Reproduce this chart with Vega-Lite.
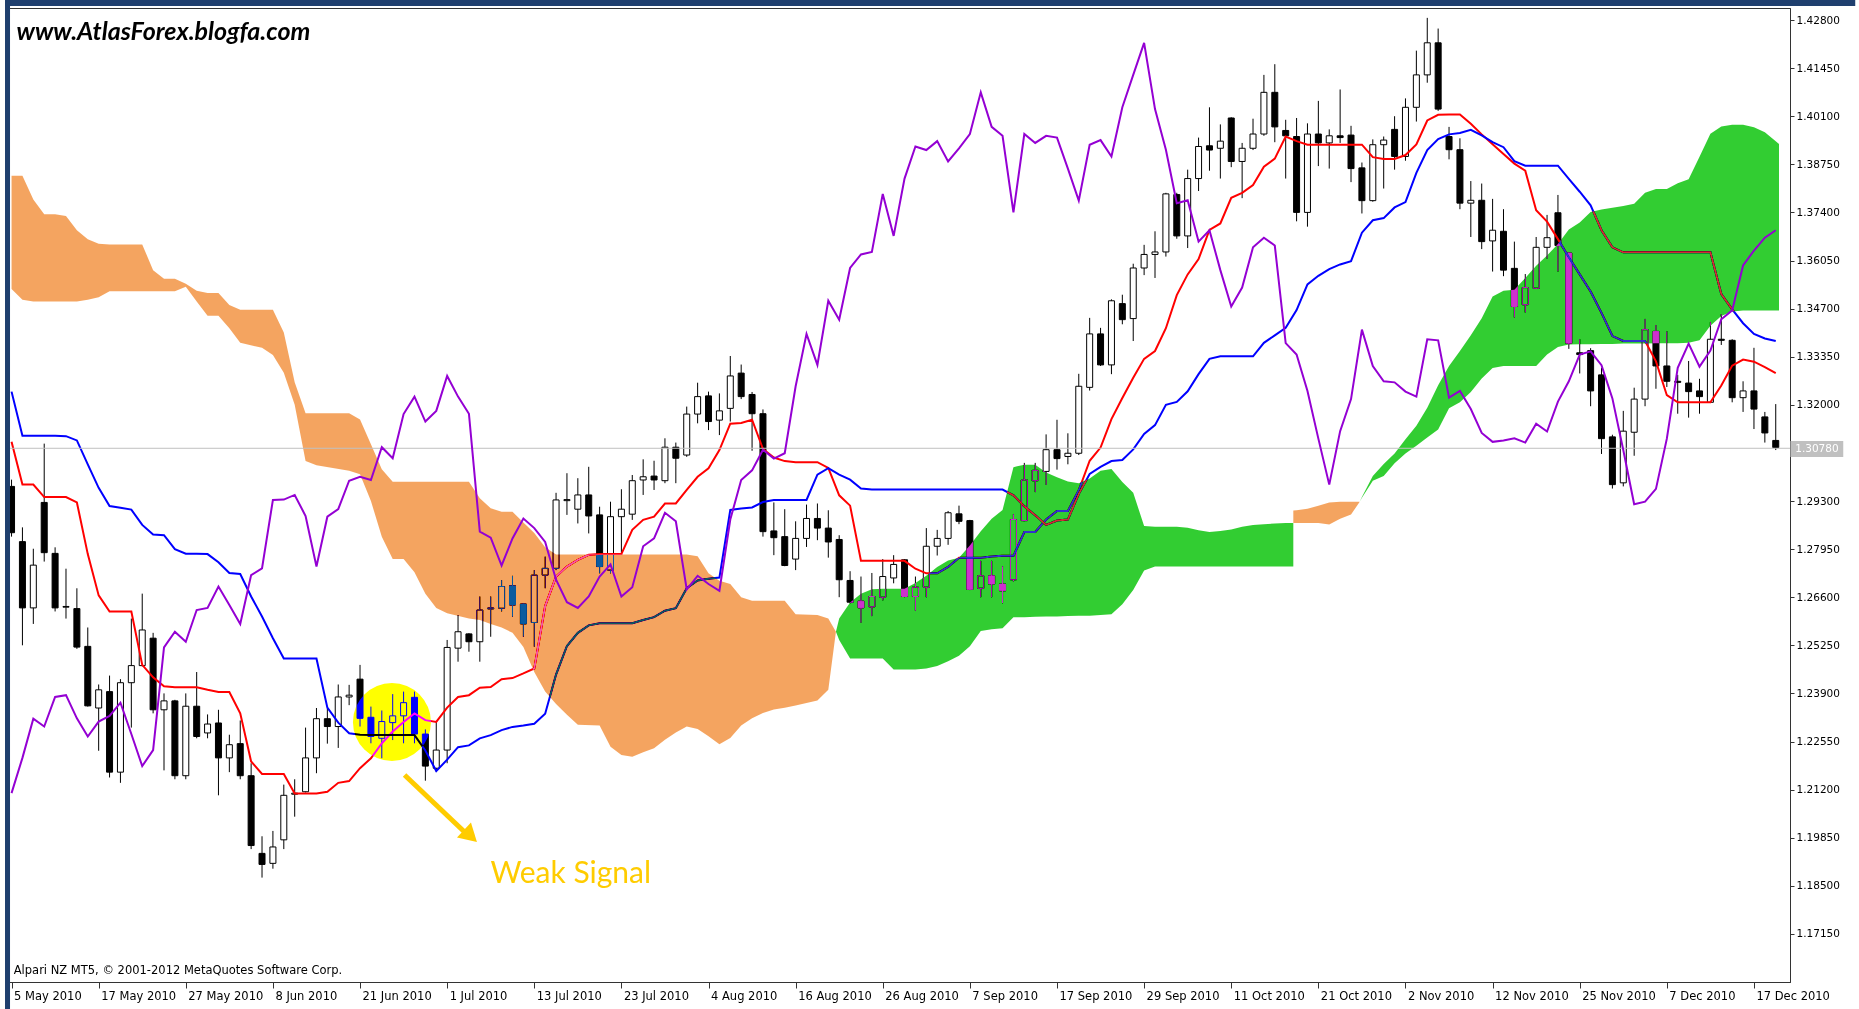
{
"$schema": "https://vega.github.io/schema/vega-lite/v6.json",
"width": 1784, "height": 974,
"autosize": {"type": "none"},
"padding": {"left": 6, "top": 8, "right": 69, "bottom": 27},
"background": "white",
"config": {"view": {"stroke": "#333333", "strokeWidth": 1, "fill": "white"}, "axis": {"grid": false, "domainColor": "#333333", "tickColor": "#333333", "labelColor": "#000000", "labelFont": "DejaVu Sans", "titleOpacity": 0}},
"datasets": {
"bars": [
{"i":0,"o":1.2971,"h":1.2990,"l":1.2830,"c":1.2841,"t":1.3096,"k":1.3237,"ch":1.2110},
{"i":1,"o":1.2816,"h":1.2856,"l":1.2525,"c":1.2630,"t":1.2976,"k":1.3113,"ch":1.2209},
{"i":2,"o":1.2630,"h":1.2796,"l":1.2585,"c":1.2750,"t":1.2976,"k":1.3113,"ch":1.2319},
{"i":3,"o":1.2926,"h":1.3091,"l":1.2760,"c":1.2785,"t":1.2941,"k":1.3113,"ch":1.2297},
{"i":4,"o":1.2783,"h":1.2800,"l":1.2620,"c":1.2630,"t":1.2941,"k":1.3113,"ch":1.2380},
{"i":5,"o":1.2632,"h":1.2740,"l":1.2600,"c":1.2634,"t":1.2941,"k":1.3112,"ch":1.2385},
{"i":6,"o":1.2628,"h":1.2685,"l":1.2515,"c":1.2520,"t":1.2926,"k":1.3100,"ch":1.2320},
{"i":7,"o":1.2522,"h":1.2575,"l":1.2353,"c":1.2355,"t":1.2781,"k":1.3033,"ch":1.2269},
{"i":8,"o":1.2349,"h":1.2415,"l":1.2229,"c":1.2400,"t":1.2665,"k":1.2967,"ch":1.2311},
{"i":9,"o":1.2395,"h":1.2440,"l":1.2154,"c":1.2169,"t":1.2620,"k":1.2916,"ch":1.2327},
{"i":10,"o":1.2169,"h":1.2430,"l":1.2139,"c":1.2420,"t":1.2620,"k":1.2911,"ch":1.2364},
{"i":11,"o":1.2420,"h":1.2600,"l":1.2294,"c":1.2468,"t":1.2620,"k":1.2906,"ch":1.2276},
{"i":12,"o":1.2468,"h":1.2670,"l":1.2466,"c":1.2568,"t":1.2470,"k":1.2863,"ch":1.2186},
{"i":13,"o":1.2545,"h":1.2560,"l":1.2334,"c":1.2344,"t":1.2435,"k":1.2836,"ch":1.2231},
{"i":14,"o":1.2344,"h":1.2390,"l":1.2174,"c":1.2369,"t":1.2410,"k":1.2834,"ch":1.2519},
{"i":15,"o":1.2369,"h":1.2372,"l":1.2149,"c":1.2159,"t":1.2407,"k":1.2795,"ch":1.2563},
{"i":16,"o":1.2159,"h":1.2390,"l":1.2149,"c":1.2354,"t":1.2407,"k":1.2782,"ch":1.2535},
{"i":17,"o":1.2354,"h":1.2450,"l":1.2264,"c":1.2269,"t":1.2407,"k":1.2782,"ch":1.2624},
{"i":18,"o":1.2279,"h":1.2331,"l":1.2264,"c":1.2304,"t":1.2400,"k":1.2781,"ch":1.2630},
{"i":19,"o":1.2307,"h":1.2344,"l":1.2104,"c":1.2209,"t":1.2394,"k":1.2758,"ch":1.2690},
{"i":20,"o":1.2209,"h":1.2274,"l":1.2169,"c":1.2246,"t":1.2394,"k":1.2728,"ch":1.2638},
{"i":21,"o":1.2249,"h":1.2314,"l":1.2149,"c":1.2159,"t":1.2334,"k":1.2725,"ch":1.2585},
{"i":22,"o":1.2159,"h":1.2194,"l":1.1953,"c":1.1963,"t":1.2199,"k":1.2662,"ch":1.2722},
{"i":23,"o":1.1941,"h":1.1989,"l":1.1873,"c":1.1910,"t":1.2164,"k":1.2606,"ch":1.2741},
{"i":24,"o":1.1913,"h":1.2004,"l":1.1898,"c":1.1959,"t":1.2164,"k":1.2545,"ch":1.2933},
{"i":25,"o":1.1979,"h":1.2134,"l":1.1953,"c":1.2104,"t":1.2164,"k":1.2488,"ch":1.2934},
{"i":26,"o":1.2107,"h":1.2149,"l":1.2044,"c":1.2110,"t":1.2109,"k":1.2488,"ch":1.2947},
{"i":27,"o":1.2114,"h":1.2294,"l":1.2112,"c":1.2209,"t":1.2109,"k":1.2488,"ch":1.2888},
{"i":28,"o":1.2209,"h":1.2349,"l":1.2166,"c":1.2319,"t":1.2109,"k":1.2488,"ch":1.2746},
{"i":29,"o":1.2319,"h":1.2349,"l":1.2249,"c":1.2297,"t":1.2114,"k":1.2350,"ch":1.2886},
{"i":30,"o":1.2297,"h":1.2415,"l":1.2237,"c":1.2380,"t":1.2139,"k":1.2308,"ch":1.2907},
{"i":31,"o":1.2380,"h":1.2414,"l":1.2357,"c":1.2385,"t":1.2144,"k":1.2278,"ch":1.2987},
{"i":32,"o":1.2430,"h":1.2470,"l":1.2297,"c":1.2320,"t":1.2180,"k":1.2274,"ch":1.2998},
{"i":33,"o":1.2323,"h":1.2353,"l":1.2250,"c":1.2269,"t":1.2208,"k":1.2273,"ch":1.2989},
{"i":34,"o":1.2264,"h":1.2342,"l":1.2208,"c":1.2311,"t":1.2250,"k":1.2273,"ch":1.3081},
{"i":35,"o":1.2308,"h":1.2388,"l":1.2259,"c":1.2327,"t":1.2283,"k":1.2273,"ch":1.3050},
{"i":36,"o":1.2327,"h":1.2395,"l":1.2250,"c":1.2364,"t":1.2310,"k":1.2273,"ch":1.3174},
{"i":37,"o":1.2379,"h":1.2395,"l":1.2250,"c":1.2276,"t":1.2334,"k":1.2273,"ch":1.3223},
{"i":38,"o":1.2276,"h":1.2289,"l":1.2145,"c":1.2186,"t":1.2315,"k":1.2230,"ch":1.3153},
{"i":39,"o":1.2180,"h":1.2310,"l":1.2170,"c":1.2231,"t":1.2310,"k":1.2172,"ch":1.3183},
{"i":40,"o":1.2231,"h":1.2540,"l":1.2194,"c":1.2519,"t":1.2350,"k":1.2204,"ch":1.3281},
{"i":41,"o":1.2517,"h":1.2610,"l":1.2479,"c":1.2563,"t":1.2380,"k":1.2239,"ch":1.3223},
{"i":42,"o":1.2557,"h":1.2559,"l":1.2507,"c":1.2535,"t":1.2385,"k":1.2244,"ch":1.3175},
{"i":43,"o":1.2535,"h":1.2662,"l":1.2479,"c":1.2624,"t":1.2406,"k":1.2264,"ch":1.2844},
{"i":44,"o":1.2627,"h":1.2662,"l":1.2549,"c":1.2630,"t":1.2408,"k":1.2273,"ch":1.2827},
{"i":45,"o":1.2629,"h":1.2708,"l":1.2620,"c":1.2690,"t":1.2430,"k":1.2287,"ch":1.2749},
{"i":46,"o":1.2692,"h":1.2720,"l":1.2605,"c":1.2638,"t":1.2433,"k":1.2296,"ch":1.2825},
{"i":47,"o":1.2641,"h":1.2643,"l":1.2549,"c":1.2585,"t":1.2446,"k":1.2300,"ch":1.2881},
{"i":48,"o":1.2589,"h":1.2736,"l":1.2521,"c":1.2722,"t":1.2460,"k":1.2305,"ch":1.2854},
{"i":49,"o":1.2722,"h":1.2774,"l":1.2685,"c":1.2741,"t":1.2635,"k":1.2333,"ch":1.2815},
{"i":50,"o":1.2741,"h":1.2953,"l":1.2736,"c":1.2933,"t":1.2718,"k":1.2443,"ch":1.2709},
{"i":51,"o":1.2931,"h":1.3008,"l":1.2891,"c":1.2934,"t":1.2746,"k":1.2523,"ch":1.2646},
{"i":52,"o":1.2907,"h":1.2994,"l":1.2867,"c":1.2947,"t":1.2765,"k":1.2560,"ch":1.2630},
{"i":53,"o":1.2947,"h":1.3026,"l":1.2839,"c":1.2888,"t":1.2779,"k":1.2581,"ch":1.2662},
{"i":54,"o":1.2891,"h":1.2914,"l":1.2727,"c":1.2746,"t":1.2781,"k":1.2587,"ch":1.2718},
{"i":55,"o":1.2736,"h":1.2928,"l":1.2727,"c":1.2886,"t":1.2781,"k":1.2587,"ch":1.2752},
{"i":56,"o":1.2886,"h":1.2963,"l":1.2783,"c":1.2907,"t":1.2781,"k":1.2587,"ch":1.2662},
{"i":57,"o":1.2893,"h":1.3003,"l":1.2877,"c":1.2987,"t":1.2849,"k":1.2587,"ch":1.2688},
{"i":58,"o":1.2989,"h":1.3047,"l":1.2947,"c":1.2998,"t":1.2877,"k":1.2596,"ch":1.2803},
{"i":59,"o":1.3000,"h":1.3043,"l":1.2961,"c":1.2989,"t":1.2886,"k":1.2604,"ch":1.2825},
{"i":60,"o":1.2987,"h":1.3106,"l":1.2980,"c":1.3081,"t":1.2923,"k":1.2622,"ch":1.2897},
{"i":61,"o":1.3081,"h":1.3094,"l":1.2980,"c":1.3050,"t":1.2923,"k":1.2629,"ch":1.2873},
{"i":62,"o":1.3059,"h":1.3195,"l":1.3054,"c":1.3174,"t":1.2961,"k":1.2685,"ch":1.2682},
{"i":63,"o":1.3174,"h":1.3262,"l":1.3148,"c":1.3223,"t":1.2998,"k":1.2707,"ch":1.2720},
{"i":64,"o":1.3225,"h":1.3237,"l":1.3129,"c":1.3153,"t":1.3022,"k":1.2712,"ch":1.2697},
{"i":65,"o":1.3157,"h":1.3232,"l":1.3115,"c":1.3183,"t":1.3073,"k":1.2715,"ch":1.2678},
{"i":66,"o":1.3190,"h":1.3337,"l":1.3153,"c":1.3281,"t":1.3147,"k":1.2905,"ch":1.2878},
{"i":67,"o":1.3289,"h":1.3313,"l":1.3216,"c":1.3223,"t":1.3149,"k":1.2909,"ch":1.2989},
{"i":68,"o":1.3229,"h":1.3236,"l":1.3071,"c":1.3175,"t":1.3158,"k":1.2912,"ch":1.3016},
{"i":69,"o":1.3175,"h":1.3187,"l":1.2830,"c":1.2844,"t":1.3076,"k":1.2927,"ch":1.3074},
{"i":70,"o":1.2846,"h":1.2926,"l":1.2778,"c":1.2827,"t":1.3052,"k":1.2933,"ch":1.3049},
{"i":71,"o":1.2830,"h":1.2907,"l":1.2747,"c":1.2749,"t":1.3042,"k":1.2933,"ch":1.3064},
{"i":72,"o":1.2767,"h":1.2873,"l":1.2736,"c":1.2825,"t":1.3039,"k":1.2933,"ch":1.3252},
{"i":73,"o":1.2825,"h":1.2920,"l":1.2801,"c":1.2881,"t":1.3039,"k":1.2933,"ch":1.3399},
{"i":74,"o":1.2881,"h":1.2923,"l":1.2820,"c":1.2854,"t":1.3039,"k":1.3004,"ch":1.3312},
{"i":75,"o":1.2854,"h":1.2904,"l":1.2771,"c":1.2815,"t":1.3023,"k":1.3022,"ch":1.3492},
{"i":76,"o":1.2822,"h":1.2834,"l":1.2660,"c":1.2709,"t":1.2946,"k":1.3004,"ch":1.3439},
{"i":77,"o":1.2707,"h":1.2733,"l":1.2643,"c":1.2646,"t":1.2917,"k":1.2990,"ch":1.3584},
{"i":78,"o":1.2649,"h":1.2718,"l":1.2588,"c":1.2630,"t":1.2762,"k":1.2965,"ch":1.3622},
{"i":79,"o":1.2633,"h":1.2728,"l":1.2607,"c":1.2662,"t":1.2762,"k":1.2962,"ch":1.3629},
{"i":80,"o":1.2660,"h":1.2767,"l":1.2651,"c":1.2718,"t":1.2762,"k":1.2962,"ch":1.3792},
{"i":81,"o":1.2714,"h":1.2778,"l":1.2699,"c":1.2752,"t":1.2762,"k":1.2962,"ch":1.3674},
{"i":82,"o":1.2765,"h":1.2767,"l":1.2660,"c":1.2662,"t":1.2762,"k":1.2962,"ch":1.3835},
{"i":83,"o":1.2662,"h":1.2718,"l":1.2622,"c":1.2688,"t":1.2740,"k":1.2962,"ch":1.3925},
{"i":84,"o":1.2688,"h":1.2854,"l":1.2660,"c":1.2803,"t":1.2727,"k":1.2962,"ch":1.3915},
{"i":85,"o":1.2803,"h":1.2849,"l":1.2777,"c":1.2825,"t":1.2727,"k":1.2962,"ch":1.3940},
{"i":86,"o":1.2825,"h":1.2902,"l":1.2807,"c":1.2897,"t":1.2745,"k":1.2962,"ch":1.3883},
{"i":87,"o":1.2894,"h":1.2917,"l":1.2865,"c":1.2873,"t":1.2771,"k":1.2962,"ch":1.3920},
{"i":88,"o":1.2875,"h":1.2877,"l":1.2680,"c":1.2682,"t":1.2771,"k":1.2962,"ch":1.3960},
{"i":89,"o":1.2685,"h":1.2762,"l":1.2660,"c":1.2720,"t":1.2771,"k":1.2962,"ch":1.4077},
{"i":90,"o":1.2720,"h":1.2762,"l":1.2660,"c":1.2697,"t":1.2774,"k":1.2962,"ch":1.3980},
{"i":91,"o":1.2697,"h":1.2747,"l":1.2643,"c":1.2678,"t":1.2776,"k":1.2962,"ch":1.3955},
{"i":92,"o":1.2709,"h":1.2893,"l":1.2704,"c":1.2878,"t":1.2776,"k":1.2946,"ch":1.3740},
{"i":93,"o":1.2875,"h":1.3037,"l":1.2873,"c":1.2989,"t":1.2843,"k":1.2915,"ch":1.3960},
{"i":94,"o":1.2987,"h":1.3037,"l":1.2955,"c":1.3016,"t":1.2843,"k":1.2890,"ch":1.3935},
{"i":95,"o":1.3013,"h":1.3117,"l":1.2975,"c":1.3074,"t":1.2878,"k":1.2863,"ch":1.3955},
{"i":96,"o":1.3074,"h":1.3158,"l":1.3018,"c":1.3049,"t":1.2902,"k":1.2875,"ch":1.3950},
{"i":97,"o":1.3055,"h":1.3120,"l":1.3033,"c":1.3064,"t":1.2902,"k":1.2878,"ch":1.3863},
{"i":98,"o":1.3064,"h":1.3287,"l":1.3059,"c":1.3252,"t":1.2960,"k":1.2950,"ch":1.3773},
{"i":99,"o":1.3249,"h":1.3444,"l":1.3240,"c":1.3399,"t":1.3043,"k":1.3006,"ch":1.3930},
{"i":100,"o":1.3399,"h":1.3416,"l":1.3309,"c":1.3312,"t":1.3080,"k":1.3026,"ch":1.3943},
{"i":101,"o":1.3312,"h":1.3496,"l":1.3286,"c":1.3492,"t":1.3160,"k":1.3042,"ch":1.3897},
{"i":102,"o":1.3484,"h":1.3509,"l":1.3426,"c":1.3439,"t":1.3219,"k":1.3045,"ch":1.4035},
{"i":103,"o":1.3442,"h":1.3596,"l":1.3379,"c":1.3584,"t":1.3276,"k":1.3075,"ch":1.4126},
{"i":104,"o":1.3584,"h":1.3649,"l":1.3564,"c":1.3622,"t":1.3329,"k":1.3118,"ch":1.4216},
{"i":105,"o":1.3622,"h":1.3687,"l":1.3556,"c":1.3629,"t":1.3351,"k":1.3143,"ch":1.4030},
{"i":106,"o":1.3629,"h":1.3795,"l":1.3616,"c":1.3792,"t":1.3415,"k":1.3200,"ch":1.3916},
{"i":107,"o":1.3790,"h":1.3795,"l":1.3666,"c":1.3674,"t":1.3508,"k":1.3208,"ch":1.3766},
{"i":108,"o":1.3674,"h":1.3860,"l":1.3640,"c":1.3835,"t":1.3566,"k":1.3238,"ch":1.3774},
{"i":109,"o":1.3835,"h":1.3950,"l":1.3800,"c":1.3925,"t":1.3609,"k":1.3286,"ch":1.3658},
{"i":110,"o":1.3927,"h":1.4035,"l":1.3857,"c":1.3915,"t":1.3691,"k":1.3329,"ch":1.3690},
{"i":111,"o":1.3920,"h":1.3987,"l":1.3835,"c":1.3940,"t":1.3709,"k":1.3336,"ch":1.3578},
{"i":112,"o":1.4005,"h":1.4007,"l":1.3867,"c":1.3883,"t":1.3781,"k":1.3336,"ch":1.3476},
{"i":113,"o":1.3883,"h":1.3935,"l":1.3780,"c":1.3920,"t":1.3795,"k":1.3336,"ch":1.3529},
{"i":114,"o":1.3920,"h":1.4003,"l":1.3915,"c":1.3960,"t":1.3817,"k":1.3336,"ch":1.3642},
{"i":115,"o":1.3960,"h":1.4126,"l":1.3955,"c":1.4077,"t":1.3868,"k":1.3374,"ch":1.3669},
{"i":116,"o":1.4077,"h":1.4156,"l":1.3937,"c":1.3980,"t":1.3891,"k":1.3395,"ch":1.3647},
{"i":117,"o":1.3970,"h":1.4000,"l":1.3835,"c":1.3955,"t":1.3953,"k":1.3416,"ch":1.3373},
{"i":118,"o":1.3953,"h":1.4005,"l":1.3715,"c":1.3740,"t":1.3940,"k":1.3466,"ch":1.3341},
{"i":119,"o":1.3740,"h":1.3990,"l":1.3700,"c":1.3960,"t":1.3930,"k":1.3538,"ch":1.3239},
{"i":120,"o":1.3960,"h":1.4053,"l":1.3870,"c":1.3935,"t":1.3930,"k":1.3562,"ch":1.3105},
{"i":121,"o":1.3935,"h":1.3973,"l":1.3863,"c":1.3955,"t":1.3930,"k":1.3581,"ch":1.2976},
{"i":122,"o":1.3955,"h":1.4085,"l":1.3935,"c":1.3950,"t":1.3930,"k":1.3594,"ch":1.3126},
{"i":123,"o":1.3957,"h":1.3983,"l":1.3825,"c":1.3863,"t":1.3930,"k":1.3603,"ch":1.3216},
{"i":124,"o":1.3865,"h":1.3880,"l":1.3737,"c":1.3773,"t":1.3930,"k":1.3683,"ch":1.3411},
{"i":125,"o":1.3773,"h":1.3945,"l":1.3770,"c":1.3930,"t":1.3895,"k":1.3718,"ch":1.3309},
{"i":126,"o":1.3930,"h":1.3953,"l":1.3807,"c":1.3943,"t":1.3890,"k":1.3724,"ch":1.3266},
{"i":127,"o":1.3973,"h":1.4010,"l":1.3860,"c":1.3897,"t":1.3890,"k":1.3754,"ch":1.3263},
{"i":128,"o":1.3897,"h":1.4060,"l":1.3885,"c":1.4035,"t":1.3901,"k":1.3769,"ch":1.3237},
{"i":129,"o":1.4035,"h":1.4194,"l":1.3995,"c":1.4126,"t":1.3931,"k":1.3851,"ch":1.3223},
{"i":130,"o":1.4126,"h":1.4286,"l":1.4104,"c":1.4216,"t":1.3998,"k":1.3915,"ch":1.3384},
{"i":131,"o":1.4216,"h":1.4256,"l":1.4025,"c":1.4030,"t":1.4014,"k":1.3946,"ch":1.3381},
{"i":132,"o":1.3953,"h":1.3980,"l":1.3889,"c":1.3916,"t":1.4015,"k":1.3959,"ch":1.3220},
{"i":133,"o":1.3916,"h":1.3948,"l":1.3749,"c":1.3766,"t":1.4015,"k":1.3963,"ch":1.3239},
{"i":134,"o":1.3766,"h":1.3828,"l":1.3671,"c":1.3774,"t":1.3989,"k":1.3972,"ch":1.3188},
{"i":135,"o":1.3774,"h":1.3821,"l":1.3637,"c":1.3658,"t":1.3959,"k":1.3956,"ch":1.3121},
{"i":136,"o":1.3660,"h":1.3778,"l":1.3574,"c":1.3690,"t":1.3931,"k":1.3937,"ch":1.3096},
{"i":137,"o":1.3687,"h":1.3749,"l":1.3561,"c":1.3578,"t":1.3904,"k":1.3923,"ch":1.3100},
{"i":138,"o":1.3583,"h":1.3658,"l":1.3445,"c":1.3476,"t":1.3877,"k":1.3884,"ch":1.3106},
{"i":139,"o":1.3481,"h":1.3567,"l":1.3459,"c":1.3529,"t":1.3857,"k":1.3871,"ch":1.3094},
{"i":140,"o":1.3527,"h":1.3671,"l":1.3525,"c":1.3642,"t":1.3746,"k":1.3871,"ch":1.3147},
{"i":141,"o":1.3642,"h":1.3733,"l":1.3610,"c":1.3669,"t":1.3714,"k":1.3871,"ch":1.3125},
{"i":142,"o":1.3739,"h":1.3789,"l":1.3574,"c":1.3647,"t":1.3665,"k":1.3871,"ch":1.3209},
{"i":143,"o":1.3626,"h":1.3628,"l":1.3357,"c":1.3373,"t":1.3614,"k":1.3834,"ch":1.3266},
{"i":144,"o":1.3346,"h":1.3384,"l":1.3288,"c":1.3341,"t":1.3566,"k":1.3798,"ch":1.3341},
{"i":145,"o":1.3352,"h":1.3359,"l":1.3196,"c":1.3239,"t":1.3518,"k":1.3760,"ch":1.3350},
{"i":146,"o":1.3284,"h":1.3304,"l":1.3062,"c":1.3105,"t":1.3458,"k":1.3690,"ch":1.3311},
{"i":147,"o":1.3110,"h":1.3116,"l":1.2965,"c":1.2976,"t":1.3393,"k":1.3642,"ch":1.3218},
{"i":148,"o":1.2981,"h":1.3183,"l":1.2971,"c":1.3126,"t":1.3379,"k":1.3628,"ch":1.3073},
{"i":149,"o":1.3123,"h":1.3248,"l":1.3057,"c":1.3216,"t":1.3379,"k":1.3628,"ch":1.2921},
{"i":150,"o":1.3216,"h":1.3441,"l":1.3196,"c":1.3411,"t":1.3379,"k":1.3628,"ch":1.2928},
{"i":151,"o":1.3406,"h":1.3424,"l":1.3245,"c":1.3309,"t":1.3322,"k":1.3628,"ch":1.2964},
{"i":152,"o":1.3309,"h":1.3406,"l":1.3250,"c":1.3266,"t":1.3227,"k":1.3628,"ch":1.3105},
{"i":153,"o":1.3266,"h":1.3284,"l":1.3175,"c":1.3263,"t":1.3207,"k":1.3628,"ch":1.3304},
{"i":154,"o":1.3261,"h":1.3323,"l":1.3164,"c":1.3237,"t":1.3207,"k":1.3628,"ch":1.3372},
{"i":155,"o":1.3239,"h":1.3273,"l":1.3175,"c":1.3223,"t":1.3207,"k":1.3628,"ch":1.3307},
{"i":156,"o":1.3207,"h":1.3432,"l":1.3205,"c":1.3384,"t":1.3207,"k":1.3628,"ch":1.3352},
{"i":157,"o":1.3384,"h":1.3454,"l":1.3368,"c":1.3381,"t":1.3254,"k":1.3511,"ch":1.3440},
{"i":158,"o":1.3381,"h":1.3384,"l":1.3207,"c":1.3220,"t":1.3310,"k":1.3468,"ch":1.3465},
{"i":159,"o":1.3220,"h":1.3266,"l":1.3180,"c":1.3239,"t":1.3327,"k":1.3429,"ch":1.3591},
{"i":160,"o":1.3239,"h":1.3360,"l":1.3132,"c":1.3188,"t":1.3321,"k":1.3399,"ch":1.3633},
{"i":161,"o":1.3166,"h":1.3180,"l":1.3094,"c":1.3121,"t":1.3306,"k":1.3386,"ch":1.3669},
{"i":162,"o":1.3100,"h":1.3202,"l":1.3073,"c":1.3080,"t":1.3289,"k":1.3379,"ch":1.3690}
],
"cloud": [
{"i":0,"lo":1.3525,"hi":1.3843,"seg":"o1","kind":"bear"},
{"i":1,"lo":1.3495,"hi":1.3843,"seg":"o1","kind":"bear"},
{"i":2,"lo":1.3490,"hi":1.3776,"seg":"o1","kind":"bear"},
{"i":3,"lo":1.3490,"hi":1.3735,"seg":"o1","kind":"bear"},
{"i":4,"lo":1.3490,"hi":1.3735,"seg":"o1","kind":"bear"},
{"i":5,"lo":1.3490,"hi":1.3730,"seg":"o1","kind":"bear"},
{"i":6,"lo":1.3490,"hi":1.3690,"seg":"o1","kind":"bear"},
{"i":7,"lo":1.3495,"hi":1.3665,"seg":"o1","kind":"bear"},
{"i":8,"lo":1.3502,"hi":1.3652,"seg":"o1","kind":"bear"},
{"i":9,"lo":1.3519,"hi":1.3650,"seg":"o1","kind":"bear"},
{"i":12,"lo":1.3519,"hi":1.3650,"seg":"o1","kind":"bear"},
{"i":13,"lo":1.3519,"hi":1.3578,"seg":"o1","kind":"bear"},
{"i":14,"lo":1.3519,"hi":1.3554,"seg":"o1","kind":"bear"},
{"i":15,"lo":1.3519,"hi":1.3554,"seg":"o1","kind":"bear"},
{"i":16,"lo":1.3531,"hi":1.3540,"seg":"o1","kind":"bear"},
{"i":17,"lo":1.3490,"hi":1.3520,"seg":"o1","kind":"bear"},
{"i":18,"lo":1.3450,"hi":1.3514,"seg":"o1","kind":"bear"},
{"i":19,"lo":1.3450,"hi":1.3514,"seg":"o1","kind":"bear"},
{"i":20,"lo":1.3415,"hi":1.3480,"seg":"o1","kind":"bear"},
{"i":21,"lo":1.3374,"hi":1.3467,"seg":"o1","kind":"bear"},
{"i":23,"lo":1.3360,"hi":1.3467,"seg":"o1","kind":"bear"},
{"i":24,"lo":1.3340,"hi":1.3467,"seg":"o1","kind":"bear"},
{"i":25,"lo":1.3290,"hi":1.3403,"seg":"o1","kind":"bear"},
{"i":26,"lo":1.3200,"hi":1.3263,"seg":"o1","kind":"bear"},
{"i":27,"lo":1.3042,"hi":1.3176,"seg":"o1","kind":"bear"},
{"i":28,"lo":1.3030,"hi":1.3176,"seg":"o1","kind":"bear"},
{"i":31,"lo":1.3015,"hi":1.3176,"seg":"o1","kind":"bear"},
{"i":32,"lo":1.3005,"hi":1.3159,"seg":"o1","kind":"bear"},
{"i":33,"lo":1.2930,"hi":1.3089,"seg":"o1","kind":"bear"},
{"i":34,"lo":1.2830,"hi":1.3019,"seg":"o1","kind":"bear"},
{"i":35,"lo":1.2767,"hi":1.2984,"seg":"o1","kind":"bear"},
{"i":36,"lo":1.2767,"hi":1.2984,"seg":"o1","kind":"bear"},
{"i":37,"lo":1.2730,"hi":1.2984,"seg":"o1","kind":"bear"},
{"i":38,"lo":1.2670,"hi":1.2984,"seg":"o1","kind":"bear"},
{"i":39,"lo":1.2630,"hi":1.2984,"seg":"o1","kind":"bear"},
{"i":40,"lo":1.2615,"hi":1.2984,"seg":"o1","kind":"bear"},
{"i":42,"lo":1.2600,"hi":1.2984,"seg":"o1","kind":"bear"},
{"i":43,"lo":1.2596,"hi":1.2938,"seg":"o1","kind":"bear"},
{"i":44,"lo":1.2585,"hi":1.2910,"seg":"o1","kind":"bear"},
{"i":45,"lo":1.2575,"hi":1.2900,"seg":"o1","kind":"bear"},
{"i":46,"lo":1.2560,"hi":1.2900,"seg":"o1","kind":"bear"},
{"i":47,"lo":1.2520,"hi":1.2870,"seg":"o1","kind":"bear"},
{"i":48,"lo":1.2450,"hi":1.2840,"seg":"o1","kind":"bear"},
{"i":49,"lo":1.2395,"hi":1.2800,"seg":"o1","kind":"bear"},
{"i":50,"lo":1.2360,"hi":1.2780,"seg":"o1","kind":"bear"},
{"i":51,"lo":1.2330,"hi":1.2780,"seg":"o1","kind":"bear"},
{"i":52,"lo":1.2302,"hi":1.2780,"seg":"o1","kind":"bear"},
{"i":54,"lo":1.2300,"hi":1.2780,"seg":"o1","kind":"bear"},
{"i":55,"lo":1.2240,"hi":1.2780,"seg":"o1","kind":"bear"},
{"i":56,"lo":1.2217,"hi":1.2780,"seg":"o1","kind":"bear"},
{"i":57,"lo":1.2212,"hi":1.2780,"seg":"o1","kind":"bear"},
{"i":58,"lo":1.2225,"hi":1.2780,"seg":"o1","kind":"bear"},
{"i":59,"lo":1.2236,"hi":1.2780,"seg":"o1","kind":"bear"},
{"i":60,"lo":1.2260,"hi":1.2780,"seg":"o1","kind":"bear"},
{"i":61,"lo":1.2280,"hi":1.2780,"seg":"o1","kind":"bear"},
{"i":62,"lo":1.2297,"hi":1.2780,"seg":"o1","kind":"bear"},
{"i":63,"lo":1.2290,"hi":1.2775,"seg":"o1","kind":"bear"},
{"i":64,"lo":1.2270,"hi":1.2727,"seg":"o1","kind":"bear"},
{"i":65,"lo":1.2247,"hi":1.2706,"seg":"o1","kind":"bear"},
{"i":66,"lo":1.2265,"hi":1.2697,"seg":"o1","kind":"bear"},
{"i":67,"lo":1.2300,"hi":1.2660,"seg":"o1","kind":"bear"},
{"i":68,"lo":1.2320,"hi":1.2650,"seg":"o1","kind":"bear"},
{"i":69,"lo":1.2335,"hi":1.2650,"seg":"o1","kind":"bear"},
{"i":70,"lo":1.2345,"hi":1.2650,"seg":"o1","kind":"bear"},
{"i":71,"lo":1.2350,"hi":1.2650,"seg":"o1","kind":"bear"},
{"i":72,"lo":1.2356,"hi":1.2612,"seg":"o1","kind":"bear"},
{"i":74,"lo":1.2370,"hi":1.2610,"seg":"o1","kind":"bear"},
{"i":75,"lo":1.2400,"hi":1.2600,"seg":"o1","kind":"bear"},
{"i":75.7,"lo":1.2563,"hi":1.2563,"seg":"o1","kind":"bear"},
{"i":75.7,"lo":1.2563,"hi":1.2563,"seg":"g1","kind":"bull"},
{"i":76,"lo":1.2540,"hi":1.2600,"seg":"g1","kind":"bull"},
{"i":77,"lo":1.2488,"hi":1.2645,"seg":"g1","kind":"bull"},
{"i":78,"lo":1.2488,"hi":1.2670,"seg":"g1","kind":"bull"},
{"i":79,"lo":1.2488,"hi":1.2682,"seg":"g1","kind":"bull"},
{"i":80,"lo":1.2488,"hi":1.2684,"seg":"g1","kind":"bull"},
{"i":81,"lo":1.2457,"hi":1.2684,"seg":"g1","kind":"bull"},
{"i":82,"lo":1.2457,"hi":1.2684,"seg":"g1","kind":"bull"},
{"i":83,"lo":1.2457,"hi":1.2700,"seg":"g1","kind":"bull"},
{"i":84,"lo":1.2460,"hi":1.2720,"seg":"g1","kind":"bull"},
{"i":85,"lo":1.2467,"hi":1.2745,"seg":"g1","kind":"bull"},
{"i":86,"lo":1.2480,"hi":1.2763,"seg":"g1","kind":"bull"},
{"i":87,"lo":1.2496,"hi":1.2771,"seg":"g1","kind":"bull"},
{"i":88,"lo":1.2522,"hi":1.2805,"seg":"g1","kind":"bull"},
{"i":89,"lo":1.2565,"hi":1.2845,"seg":"g1","kind":"bull"},
{"i":90,"lo":1.2570,"hi":1.2880,"seg":"g1","kind":"bull"},
{"i":91,"lo":1.2573,"hi":1.2905,"seg":"g1","kind":"bull"},
{"i":92,"lo":1.2604,"hi":1.3025,"seg":"g1","kind":"bull"},
{"i":93,"lo":1.2604,"hi":1.3032,"seg":"g1","kind":"bull"},
{"i":94,"lo":1.2605,"hi":1.3032,"seg":"g1","kind":"bull"},
{"i":95,"lo":1.2606,"hi":1.3010,"seg":"g1","kind":"bull"},
{"i":96,"lo":1.2606,"hi":1.2997,"seg":"g1","kind":"bull"},
{"i":97,"lo":1.2607,"hi":1.2985,"seg":"g1","kind":"bull"},
{"i":98,"lo":1.2608,"hi":1.2980,"seg":"g1","kind":"bull"},
{"i":99,"lo":1.2608,"hi":1.2993,"seg":"g1","kind":"bull"},
{"i":100,"lo":1.2610,"hi":1.3015,"seg":"g1","kind":"bull"},
{"i":101,"lo":1.2612,"hi":1.3020,"seg":"g1","kind":"bull"},
{"i":102,"lo":1.2640,"hi":1.2983,"seg":"g1","kind":"bull"},
{"i":103,"lo":1.2680,"hi":1.2953,"seg":"g1","kind":"bull"},
{"i":104,"lo":1.2735,"hi":1.2860,"seg":"g1","kind":"bull"},
{"i":105,"lo":1.2746,"hi":1.2858,"seg":"g1","kind":"bull"},
{"i":107,"lo":1.2746,"hi":1.2858,"seg":"g1","kind":"bull"},
{"i":108,"lo":1.2746,"hi":1.2855,"seg":"g1","kind":"bull"},
{"i":109,"lo":1.2746,"hi":1.2848,"seg":"g1","kind":"bull"},
{"i":110,"lo":1.2746,"hi":1.2843,"seg":"g1","kind":"bull"},
{"i":111,"lo":1.2746,"hi":1.2846,"seg":"g1","kind":"bull"},
{"i":112,"lo":1.2746,"hi":1.2850,"seg":"g1","kind":"bull"},
{"i":113,"lo":1.2746,"hi":1.2858,"seg":"g1","kind":"bull"},
{"i":114,"lo":1.2746,"hi":1.2863,"seg":"g1","kind":"bull"},
{"i":115,"lo":1.2746,"hi":1.2865,"seg":"g1","kind":"bull"},
{"i":116,"lo":1.2746,"hi":1.2867,"seg":"g1","kind":"bull"},
{"i":117,"lo":1.2746,"hi":1.2868,"seg":"g1","kind":"bull"},
{"i":117.7,"lo":1.2746,"hi":1.2868,"seg":"g1","kind":"bull"},
{"i":117.7,"lo":1.2868,"hi":1.2903,"seg":"o2","kind":"bear"},
{"i":118,"lo":1.2868,"hi":1.2904,"seg":"o2","kind":"bear"},
{"i":119,"lo":1.2868,"hi":1.2908,"seg":"o2","kind":"bear"},
{"i":120,"lo":1.2868,"hi":1.2917,"seg":"o2","kind":"bear"},
{"i":121,"lo":1.2864,"hi":1.2926,"seg":"o2","kind":"bear"},
{"i":122,"lo":1.2880,"hi":1.2928,"seg":"o2","kind":"bear"},
{"i":123,"lo":1.2892,"hi":1.2928,"seg":"o2","kind":"bear"},
{"i":123.8,"lo":1.2928,"hi":1.2928,"seg":"o2","kind":"bear"},
{"i":123.8,"lo":1.2928,"hi":1.2928,"seg":"g2","kind":"bull"},
{"i":124,"lo":1.2939,"hi":1.2941,"seg":"g2","kind":"bull"},
{"i":125,"lo":1.2987,"hi":1.3000,"seg":"g2","kind":"bull"},
{"i":126,"lo":1.3000,"hi":1.3034,"seg":"g2","kind":"bull"},
{"i":127,"lo":1.3036,"hi":1.3063,"seg":"g2","kind":"bull"},
{"i":128,"lo":1.3063,"hi":1.3103,"seg":"g2","kind":"bull"},
{"i":129,"lo":1.3085,"hi":1.3141,"seg":"g2","kind":"bull"},
{"i":130,"lo":1.3108,"hi":1.3192,"seg":"g2","kind":"bull"},
{"i":131,"lo":1.3131,"hi":1.3255,"seg":"g2","kind":"bull"},
{"i":132,"lo":1.3190,"hi":1.3309,"seg":"g2","kind":"bull"},
{"i":133,"lo":1.3207,"hi":1.3351,"seg":"g2","kind":"bull"},
{"i":134,"lo":1.3236,"hi":1.3395,"seg":"g2","kind":"bull"},
{"i":135,"lo":1.3274,"hi":1.3443,"seg":"g2","kind":"bull"},
{"i":136,"lo":1.3303,"hi":1.3504,"seg":"g2","kind":"bull"},
{"i":137,"lo":1.3309,"hi":1.3520,"seg":"g2","kind":"bull"},
{"i":138,"lo":1.3309,"hi":1.3523,"seg":"g2","kind":"bull"},
{"i":139,"lo":1.3309,"hi":1.3556,"seg":"g2","kind":"bull"},
{"i":140,"lo":1.3309,"hi":1.3590,"seg":"g2","kind":"bull"},
{"i":141,"lo":1.3341,"hi":1.3619,"seg":"g2","kind":"bull"},
{"i":142,"lo":1.3362,"hi":1.3651,"seg":"g2","kind":"bull"},
{"i":143,"lo":1.3369,"hi":1.3692,"seg":"g2","kind":"bull"},
{"i":144,"lo":1.3370,"hi":1.3712,"seg":"g2","kind":"bull"},
{"i":145,"lo":1.3370,"hi":1.3741,"seg":"g2","kind":"bull"},
{"i":146,"lo":1.3371,"hi":1.3748,"seg":"g2","kind":"bull"},
{"i":147,"lo":1.3371,"hi":1.3753,"seg":"g2","kind":"bull"},
{"i":148,"lo":1.3372,"hi":1.3758,"seg":"g2","kind":"bull"},
{"i":149,"lo":1.3372,"hi":1.3764,"seg":"g2","kind":"bull"},
{"i":150,"lo":1.3372,"hi":1.3795,"seg":"g2","kind":"bull"},
{"i":151,"lo":1.3373,"hi":1.3806,"seg":"g2","kind":"bull"},
{"i":152,"lo":1.3373,"hi":1.3806,"seg":"g2","kind":"bull"},
{"i":153,"lo":1.3373,"hi":1.3822,"seg":"g2","kind":"bull"},
{"i":154,"lo":1.3374,"hi":1.3833,"seg":"g2","kind":"bull"},
{"i":155,"lo":1.3381,"hi":1.3896,"seg":"g2","kind":"bull"},
{"i":156,"lo":1.3422,"hi":1.3961,"seg":"g2","kind":"bull"},
{"i":157,"lo":1.3449,"hi":1.3981,"seg":"g2","kind":"bull"},
{"i":158,"lo":1.3462,"hi":1.3986,"seg":"g2","kind":"bull"},
{"i":159,"lo":1.3465,"hi":1.3986,"seg":"g2","kind":"bull"},
{"i":160,"lo":1.3465,"hi":1.3979,"seg":"g2","kind":"bull"},
{"i":161,"lo":1.3465,"hi":1.3965,"seg":"g2","kind":"bull"},
{"i":162,"lo":1.3465,"hi":1.3940,"seg":"g2","kind":"bull"},
{"i":162.3,"lo":1.3465,"hi":1.3932,"seg":"g2","kind":"bull"}
]
},
"layer": [
{"data": {"name": "bars"}, "mark": {"type": "rule", "color": "#000000", "strokeWidth": 1, "clip": true},
 "encoding": {
  "x": {"field": "i", "type": "quantitative", "scale": {"domain": [-0.05, 162.85], "nice": false, "zero": false},
        "axis": {"title": null, "values": [0,8,16,24,32,40,48,56,64,72,80,88,96,104,112,120,128,136,144,152,160],
                 "labelExpr": "['5 May 2010','17 May 2010','27 May 2010','8 Jun 2010','21 Jun 2010','1 Jul 2010','13 Jul 2010','23 Jul 2010','4 Aug 2010','16 Aug 2010','26 Aug 2010','7 Sep 2010','17 Sep 2010','29 Sep 2010','11 Oct 2010','21 Oct 2010','2 Nov 2010','12 Nov 2010','25 Nov 2010','7 Dec 2010','17 Dec 2010'][round(datum.value/8)]",
                 "labelAlign": "left", "labelBaseline": "top", "labelOffset": 2, "labelPadding": 2, "tickSize": 6, "labelFontSize": 11.5, "labelFlush": false, "labelOverlap": false}},
  "y": {"field": "l", "type": "quantitative", "scale": {"domain": [1.158, 1.43137], "nice": false, "zero": false},
        "axis": {"title": null, "orient": "right", "values": [1.1715,1.185,1.1985,1.212,1.2255,1.239,1.2525,1.266,1.2795,1.293,1.3065,1.32,1.3335,1.347,1.3605,1.374,1.3875,1.401,1.4145,1.428],
                 "labelExpr": "abs(datum.value-1.3065) < 0.0001 ? '' : format(datum.value, '.5f')",
                 "tickSize": 4, "labelPadding": 2, "labelFontSize": 10.5, "labelBaseline": "middle", "labelFlush": false, "labelOverlap": false}},
  "y2": {"field": "h"}
 }},
{"data": {"name": "bars"}, "mark": {"type": "bar", "size": 6, "stroke": "#000000", "strokeWidth": 1, "clip": true},
 "encoding": {
  "x": {"field": "i", "type": "quantitative"},
  "y": {"field": "o", "type": "quantitative"},
  "y2": {"field": "c"},
  "fill": {"condition": {"test": "datum.c < datum.o", "value": "#000000"}, "value": "#ffffff"}
 }},
{"data": {"name": "bars"}, "mark": {"type": "line", "color": "#ff0000", "strokeWidth": 2, "clip": true},
 "encoding": {
  "x": {"field": "i", "type": "quantitative"},
  "y": {"field": "t", "type": "quantitative"}
 }},
{"data": {"name": "bars"}, "mark": {"type": "line", "color": "#0000ff", "strokeWidth": 2, "clip": true},
 "encoding": {
  "x": {"field": "i", "type": "quantitative"},
  "y": {"field": "k", "type": "quantitative"}
 }},
{"data": {"name": "cloud"}, "mark": {"type": "area", "blend": "difference", "opacity": 1, "interpolate": "linear"},
 "encoding": {
  "x": {"field": "i", "type": "quantitative"},
  "y": {"field": "lo", "type": "quantitative"},
  "y2": {"field": "hi"},
  "detail": {"field": "seg", "type": "nominal"},
  "color": {"field": "kind", "type": "nominal", "scale": {"domain": ["bear", "bull"], "range": ["#0b5b9f", "#cd32cd"]}, "legend": null}
 }},
{"data": {"values": [{}]}, "mark": {"type": "point", "shape": "circle", "filled": true, "size": 6084, "color": "#0000ff", "opacity": 1, "blend": "difference"},
 "encoding": {
  "x": {"datum": 34.93, "type": "quantitative"},
  "y": {"datum": 1.23097, "type": "quantitative"}
 }},
{"data": {"values": [{}]}, "mark": {"type": "rule", "color": "#c0c0c0", "strokeWidth": 1},
 "encoding": {
  "y": {"datum": 1.3078, "type": "quantitative"}
 }},
{"data": {"name": "bars"}, "mark": {"type": "line", "color": "#9400d3", "strokeWidth": 2, "clip": true},
 "encoding": {
  "x": {"field": "i", "type": "quantitative"},
  "y": {"field": "ch", "type": "quantitative"}
 }},
{"data": {"values": [{}]}, "mark": {"type": "rule", "color": "#ffcc00", "strokeWidth": 5},
 "encoding": {
  "x": {"datum": 36.09, "type": "quantitative"},
  "y": {"datum": 1.2161, "type": "quantitative"},
  "x2": {"datum": 41.6},
  "y2": {"datum": 1.2001}
 }},
{"data": {"values": [{}]}, "mark": {"type": "point", "shape": "triangle-right", "angle": 43, "filled": true, "size": 420, "color": "#ffcc00", "opacity": 1},
 "encoding": {
  "x": {"datum": 42.14, "type": "quantitative"},
  "y": {"datum": 1.19898, "type": "quantitative"}
 }},
{"data": {"values": [{}]}, "mark": {"type": "text", "text": "Weak Signal", "font": "Lato", "fontSize": 30, "color": "#ffcc00", "align": "left", "baseline": "alphabetic"},
 "encoding": {
  "x": {"datum": 43.97, "type": "quantitative"},
  "y": {"datum": 1.1858, "type": "quantitative"}
 }},
{"data": {"values": [{}]}, "mark": {"type": "text", "text": "www.AtlasForex.blogfa.com", "font": "Lato", "fontSize": 25, "fontStyle": "italic", "fontWeight": "bold", "color": "#000000", "align": "left", "baseline": "alphabetic"},
 "encoding": {
  "x": {"datum": 0.45, "type": "quantitative"},
  "y": {"datum": 1.4224, "type": "quantitative"}
 }},
{"data": {"values": [{}]}, "mark": {"type": "text", "text": "Alpari NZ MT5, © 2001-2012 MetaQuotes Software Corp.", "font": "DejaVu Sans", "fontSize": 11.5, "color": "#000000", "align": "left", "baseline": "alphabetic"},
 "encoding": {
  "x": {"datum": 0.2, "type": "quantitative"},
  "y": {"datum": 1.16025, "type": "quantitative"}
 }},
{"data": {"values": [{}]}, "mark": {"type": "rect", "color": "#c0c0c0"},
 "encoding": {
  "x": {"datum": 163.35, "type": "quantitative"},
  "x2": {"datum": 168.2},
  "y": {"datum": 1.30535, "type": "quantitative"},
  "y2": {"datum": 1.30984}
 }},
{"data": {"values": [{}]}, "mark": {"type": "text", "text": "1.30780", "font": "DejaVu Sans", "fontSize": 10.5, "color": "#ffffff", "align": "center", "baseline": "middle"},
 "encoding": {
  "x": {"datum": 165.78, "type": "quantitative"},
  "y": {"datum": 1.3076, "type": "quantitative"}
 }},
{"data": {"values": [{}]}, "mark": {"type": "rect", "color": "#1f3f6e"},
 "encoding": {
  "x": {"datum": -0.6, "type": "quantitative"},
  "x2": {"datum": 169.3},
  "y": {"datum": 1.43193, "type": "quantitative"},
  "y2": {"datum": 1.4337}
 }},
{"data": {"values": [{}]}, "mark": {"type": "rect", "color": "#1f3f6e"},
 "encoding": {
  "x": {"datum": -0.6, "type": "quantitative"},
  "x2": {"datum": -0.14},
  "y": {"datum": 1.1504, "type": "quantitative"},
  "y2": {"datum": 1.4337}
 }}
]
}
